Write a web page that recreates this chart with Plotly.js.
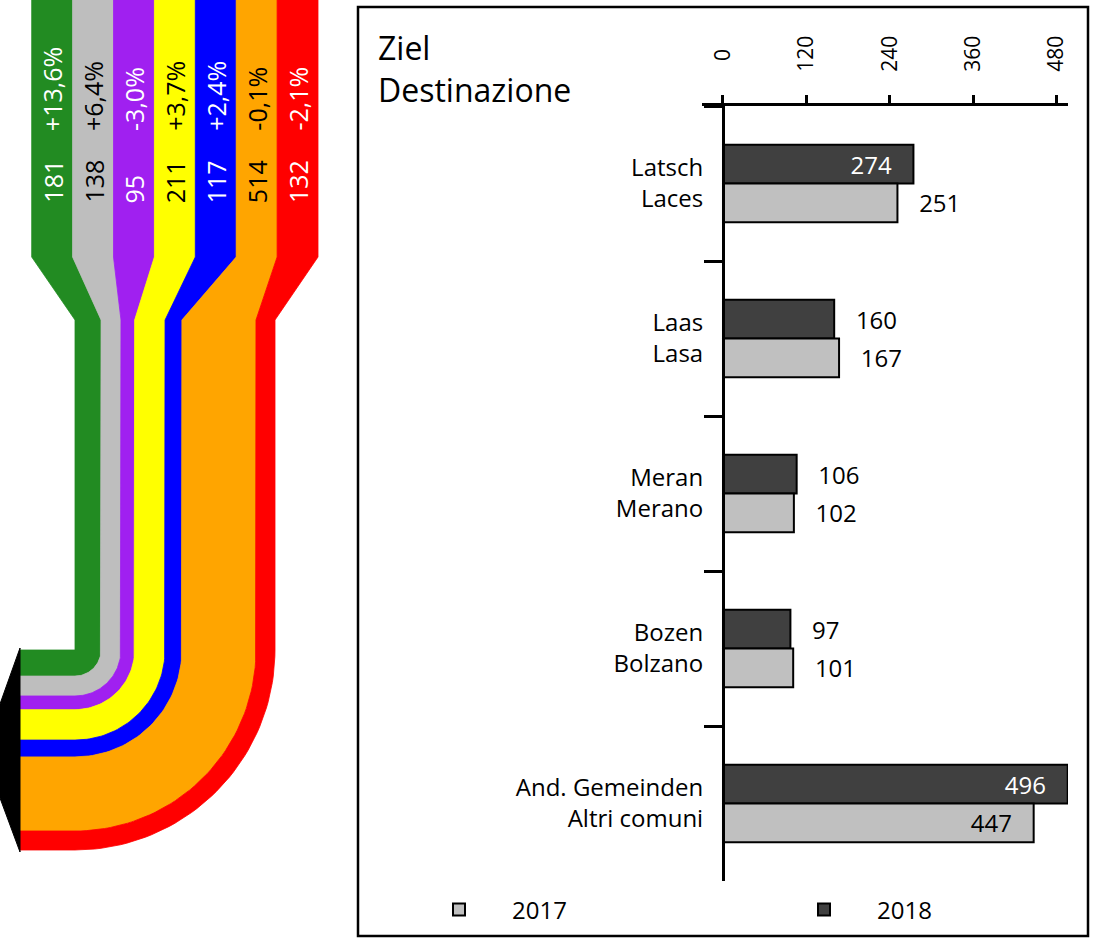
<!DOCTYPE html>
<html><head><meta charset="utf-8">
<script src="https://cdn.plot.ly/plotly-3.0.1.min.js"></script>
<style>html,body{margin:0;padding:0;background:#fff}#chart{width:1096px;height:942px}</style>
</head><body><div id="chart"></div>
<script>
// ---------- DATA ----------
const categories = ['Latsch<br>Laces','Laas<br>Lasa','Meran<br>Merano','Bozen<br>Bolzano','And. Gemeinden<br>Altri comuni'];
const values2017 = [251,167,102,101,447];
const values2018 = [274,160,106,97,496];
const seriesNames = ['2017','2018'];
const xTickVals = [0,120,240,360,480];
const xTickText = ['\u00a0\u00a00','120','240','360','480'];
const flowValues = [181,138,95,211,117,514,132];
const flowChanges = ['+13,6%','+6,4%','-3,0%','+3,7%','+2,4%','-0,1%','-2,1%'];
const flowColors = ['#228b22','#bebebe','#a020f0','#ffff00','#0000ff','#ffa500','#ff0000'];
const flowTextColors = ['#ffffff','#000000','#ffffff','#000000','#ffffff','#000000','#ffffff'];
const chartTitle = 'Ziel<br>Destinazione';
const textPos2017 = ['outside','outside','outside','outside','inside'];
const textPos2018 = ['inside','outside','outside','outside','inside'];

// ---------- LAYOUT CONSTANTS ----------
const W = 1096, H = 942;
const FONT = '"Open Sans", sans-serif';
const topLeft = 31.7, topBandW = 40.9, taperStart = 257, taperEnd = 320;
const baseX = 75, bundleW = 200, cornerY = 650, arrowX = 20;

const traces = [];
const annotations = [];

// ---------- LEFT FLOW DIAGRAM ----------
const total = flowValues.reduce((a, b) => a + b, 0);
let cum = 0;
flowValues.forEach((v, i) => {
  const w = v / total * bundleW;
  const rIn = cum, rOut = cum + w;
  cum += w;
  const tl = topLeft + i * topBandW, tr = tl + topBandW;
  const xs = [], ys = [];
  const push = (x, y) => { xs.push(x); ys.push(y); };
  push(tl, -5); push(tl, taperStart); push(baseX + rIn, taperEnd); push(baseX + rIn, cornerY);
  const N = 48;
  for (let k = 0; k <= N; k++) { const t = k / N * Math.PI / 2; push(baseX + rIn * Math.cos(t), cornerY + rIn * Math.sin(t)); }
  push(arrowX, cornerY + rIn); push(arrowX, cornerY + rOut);
  for (let k = N; k >= 0; k--) { const t = k / N * Math.PI / 2; push(baseX + rOut * Math.cos(t), cornerY + rOut * Math.sin(t)); }
  push(baseX + rOut, taperEnd); push(tr, taperStart); push(tr, -5); push(tl, -5);
  traces.push({type:'scatter', x:xs, y:ys, xaxis:'x2', yaxis:'y2', mode:'lines', fill:'toself',
    fillcolor:flowColors[i], line:{color:flowColors[i], width:0.8}, hoverinfo:'skip', showlegend:false});
  const cx = (tl + tr) / 2;
  annotations.push({xref:'x2', yref:'y2', x:cx, y:205, text:String(v), textangle:-90, xanchor:'center', yanchor:'bottom',
    showarrow:false, font:{family:FONT, size:25, color:flowTextColors[i]}});
  annotations.push({xref:'x2', yref:'y2', x:cx, y:133, text:flowChanges[i], textangle:-90, xanchor:'center', yanchor:'bottom',
    showarrow:false, font:{family:FONT, size:25, color:flowTextColors[i]}});
});
// arrow head
traces.push({type:'scatter', xaxis:'x2', yaxis:'y2', mode:'lines', fill:'toself', fillcolor:'#000',
  x:[arrowX, 0, 0, arrowX, arrowX],
  y:[cornerY - 2, cornerY + bundleW * 0.27, cornerY + bundleW * 0.74, cornerY + bundleW + 2, cornerY - 2],
  line:{color:'#000', width:1}, hoverinfo:'skip', showlegend:false});

// ---------- BAR CHART ----------
const pad = '\u00a0\u00a0\u00a0';
traces.push({type:'bar', orientation:'h', name:seriesNames[1], y:categories, x:values2018,
  marker:{color:'#404040', line:{color:'#000', width:2}},
  texttemplate: textPos2018.map(p => p === 'inside' ? '%{x}' + pad : pad + '%{x}'),
  textposition: textPos2018, insidetextanchor:'end', textangle:0, constraintext:'none', cliponaxis:false,
  insidetextfont:{family:FONT, size:24, color:'#ffffff'}, outsidetextfont:{family:FONT, size:24, color:'#000'},
  hoverinfo:'skip'});
traces.push({type:'bar', orientation:'h', name:seriesNames[0], y:categories, x:values2017,
  marker:{color:'#c0c0c0', line:{color:'#000', width:2}},
  texttemplate: textPos2017.map(p => p === 'inside' ? '%{x}' + pad : pad + '%{x}'),
  textposition: textPos2017, insidetextanchor:'end', textangle:0, constraintext:'none', cliponaxis:false,
  insidetextfont:{family:FONT, size:24, color:'#000'}, outsidetextfont:{family:FONT, size:24, color:'#000'},
  hoverinfo:'skip'});

annotations.push({xref:'paper', yref:'paper', x:376/W, y:1 - 24/H, xanchor:'left', yanchor:'top', align:'left',
  text:chartTitle, showarrow:false, font:{family:FONT, size:32, color:'#000'}});

const layout = {
  width:W, height:H, margin:{l:0, r:0, t:0, b:0, autoexpand:false}, paper_bgcolor:'#fff', plot_bgcolor:'rgba(0,0,0,0)',
  font:{family:FONT, color:'#000'},
  showlegend:true,
  barmode:'group', bargap:0.5, bargroupgap:0,
  xaxis:{domain:[702/W, 1068/W], range:[-30.2, 496.4], side:'top', anchor:'y',
    tickmode:'array', tickvals:xTickVals, ticktext:xTickText, tickangle:-90,
    ticks:'outside', ticklen:8, tickwidth:3, tickcolor:'#000', ticklabelstandoff:19,
    showline:true, linewidth:3, linecolor:'#000', showgrid:false, zeroline:false,
    tickfont:{family:FONT, size:21, color:'#000'}, fixedrange:true},
  yaxis:{domain:[(H - 881) / H, (H - 106) / H], type:'category', autorange:'reversed',
    anchor:'free', position:723 / W, showline:true, linewidth:3, linecolor:'#000',
    ticks:'outside', ticklen:18, tickwidth:3, tickcolor:'#000', tickson:'boundaries', ticklabelstandoff:14,
    showgrid:false, zeroline:false, tickfont:{family:FONT, size:24, color:'#000'}, fixedrange:true},
  xaxis2:{domain:[0, 330 / W], range:[0, 330], anchor:'y2', visible:false, fixedrange:true},
  yaxis2:{domain:[0, 1], range:[H, 0], anchor:'x2', visible:false, fixedrange:true},
  legend:{orientation:'h', traceorder:'reversed', x:406 / W, xanchor:'left', y:32 / H, yanchor:'middle',
    itemwidth:96, entrywidth:254, entrywidthmode:'pixels', font:{family:FONT, size:24, color:'#000'},
    bgcolor:'rgba(0,0,0,0)'},
  shapes:[{type:'rect', xref:'paper', yref:'paper', x0:358 / W, x1:1088 / W, y0:(H - 936) / H, y1:(H - 7) / H,
    line:{color:'#000', width:2.5}, fillcolor:'rgba(0,0,0,0)'}],
  annotations:annotations
};

Plotly.newPlot('chart', traces, layout, {displayModeBar:false, staticPlot:true});
</script></body></html>
